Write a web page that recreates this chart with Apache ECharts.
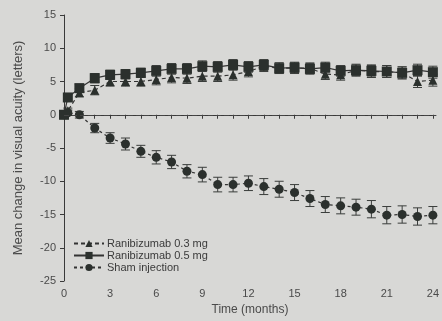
<!DOCTYPE html>
<html><head><meta charset="utf-8">
<script src="https://cdn.jsdelivr.net/npm/echarts@6/dist/echarts.min.js"></script>
<style>html,body{margin:0;padding:0;background:#d8d8d6}#c{width:442px;height:321px}</style>
</head><body><div id="c"></div>
<script>
var months = [0, 0.25, 1, 2, 3, 4, 5, 6, 7, 8, 9, 10, 11, 12, 13, 14, 15, 16, 17, 18, 19, 20, 21, 22, 23, 24];
var ran03 = [0, 0.6, 3.3, 3.7, 5.0, 5.0, 5.0, 5.3, 5.6, 5.5, 5.8, 5.8, 6.0, 6.5, 7.3, 7.0, 7.0, 7.0, 6.1, 6.0, 6.7, 6.5, 6.5, 6.3, 5.0, 5.2];
var ran05 = [0, 2.6, 4.0, 5.5, 6.0, 6.1, 6.3, 6.6, 6.9, 6.9, 7.3, 7.2, 7.5, 7.2, 7.5, 7.0, 7.1, 6.9, 7.1, 6.6, 6.7, 6.6, 6.5, 6.3, 6.7, 6.4];
var sham  = [0, 0.3, 0.0, -2.0, -3.5, -4.4, -5.5, -6.4, -7.1, -8.5, -9.0, -10.5, -10.5, -10.3, -10.8, -11.2, -11.7, -12.6, -13.5, -13.7, -13.9, -14.2, -15.1, -15.0, -15.3, -15.1];
var err03 = [0, 0.4, 0.6, 0.7, 0.7, 0.7, 0.7, 0.8, 0.8, 0.8, 0.8, 0.8, 0.8, 0.8, 0.8, 0.8, 0.8, 0.8, 0.8, 0.8, 0.9, 0.9, 0.9, 0.9, 0.9, 0.9];
var err05 = [0, 0.5, 0.6, 0.7, 0.7, 0.7, 0.7, 0.8, 0.8, 0.8, 0.8, 0.8, 0.8, 0.8, 0.8, 0.8, 0.8, 0.8, 0.8, 0.8, 0.8, 0.9, 0.9, 0.9, 0.9, 0.9];
var errSham = [0, 0.4, 0.5, 0.7, 0.8, 0.9, 0.9, 1.0, 1.0, 1.0, 1.1, 1.1, 1.1, 1.1, 1.2, 1.2, 1.2, 1.2, 1.2, 1.2, 1.2, 1.3, 1.3, 1.3, 1.3, 1.3];
var seriesNames = ['Ranibizumab 0.3 mg', 'Ranibizumab 0.5 mg', 'Sham injection'];
var xLabelTicks = [0, 3, 6, 9, 12, 15, 18, 21, 24];
var xMinorTicks = [0,1,2,3,4,5,6,7,8,9,10,11,12,13,14,15,16,17,18,19,20,21,22,23,24];
var xTitle = 'Time (months)';
var yTitle = 'Mean change in visual acuity (letters)';

var ink = '#2b302d';
var txt = '#4a4a4a';
function pairs(vals){ return months.map(function(m,i){ return [m, vals[i]]; }); }
function errData(vals, errs){ return months.map(function(m,i){ return [m, vals[i]-errs[i], vals[i]+errs[i]]; }); }
function errSeries(vals, errs){
  return {
    type: 'custom', silent: true, z: 1,
    data: errData(vals, errs),
    encode: {x: 0, y: [1, 2]},
    renderItem: function(params, api){
      var x = api.value(0);
      if (api.value(2) - api.value(1) <= 0) return null;
      var lo = api.coord([x, api.value(1)]);
      var hi = api.coord([x, api.value(2)]);
      var w = 4.5;
      var st = {stroke: '#3a3d3b', lineWidth: 1};
      return {type: 'group', children: [
        {type: 'line', shape: {x1: lo[0], y1: lo[1], x2: hi[0], y2: hi[1]}, style: st},
        {type: 'line', shape: {x1: lo[0]-w, y1: lo[1], x2: lo[0]+w, y2: lo[1]}, style: st},
        {type: 'line', shape: {x1: hi[0]-w, y1: hi[1], x2: hi[0]+w, y2: hi[1]}, style: st}
      ]};
    }
  };
}
var chart = echarts.init(document.getElementById('c'), null, {renderer: 'canvas'});
chart.setOption({
  backgroundColor: '#d8d8d6',
  animation: false,
  grid: {left: 64, right: 0, top: 15, bottom: 39, containLabel: false},
  legend: {
    orient: 'vertical', left: 73, top: 238, itemWidth: 30, itemHeight: 9, itemGap: 1, padding: 0,
    textStyle: {fontFamily: 'Liberation Sans, Arial', fontSize: 11, lineHeight: 10, color: '#3a3a3a', padding: [0,0,0,-2]},
    data: seriesNames
  },
  xAxis: {
    type: 'value', min: 0, max: 24.2,
    name: xTitle, nameLocation: 'middle', nameGap: 23,
    nameTextStyle: {fontFamily: 'Liberation Sans, Arial', fontSize: 12, color: txt},
    axisLine: {lineStyle: {color: '#3a3a3a', width: 1}},
    axisTick: {show: true, length: 4, customValues: xMinorTicks, lineStyle: {color: '#3a3a3a'}},
    axisLabel: {customValues: xLabelTicks, fontFamily: 'Liberation Sans, Arial', fontSize: 11, color: txt, margin: 7},
    splitLine: {show: false}
  },
  yAxis: {
    type: 'value', min: -25, max: 15, interval: 5,
    name: yTitle, nameLocation: 'middle', nameGap: 39,
    nameTextStyle: {fontFamily: 'Liberation Sans, Arial', fontSize: 13, color: txt},
    axisLine: {show: true, lineStyle: {color: '#3a3a3a', width: 1}},
    axisTick: {show: true, length: 4, lineStyle: {color: '#3a3a3a'}},
    axisLabel: {fontFamily: 'Liberation Sans, Arial', fontSize: 11, color: txt, margin: 8},
    splitLine: {show: false}
  },
  series: [
    errSeries(ran03, err03), errSeries(ran05, err05), errSeries(sham, errSham),
    {
      name: seriesNames[0], type: 'line', data: pairs(ran03), z: 3,
      symbol: 'triangle', symbolSize: 9,
      itemStyle: {color: ink},
      lineStyle: {color: '#333', width: 1.2, type: [4, 3]},
      markLine: {silent: true, symbol: 'none', label: {show: false},
        lineStyle: {color: '#444', width: 1.2, type: [5, 3]},
        data: [{yAxis: 0}]}
    },
    {
      name: seriesNames[1], type: 'line', data: pairs(ran05), z: 4,
      symbol: 'rect', symbolSize: 10,
      itemStyle: {color: ink},
      lineStyle: {color: '#333', width: 1.2, type: 'solid'}
    },
    {
      name: seriesNames[2], type: 'line', data: pairs(sham), z: 3,
      symbol: 'circle', symbolSize: 9,
      itemStyle: {color: ink},
      lineStyle: {color: '#333', width: 1.2, type: [3, 3]}
    }
  ]
});
</script></body></html>
